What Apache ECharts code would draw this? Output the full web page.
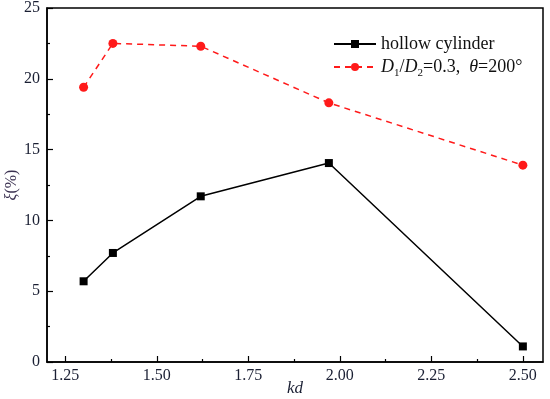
<!DOCTYPE html>
<html><head><meta charset="utf-8">
<script src="https://cdn.jsdelivr.net/npm/echarts@6/dist/echarts.min.js"></script>
<style>html,body{margin:0;padding:0;background:#fff}#c{width:550px;height:399px}</style>
</head><body><div id="c"></div>
<script>
var kd = [1.30, 1.38, 1.62, 1.97, 2.50];
var hollowCylinder = [5.7, 7.7, 11.7, 14.05, 1.1];
var ratioSeries = [19.4, 22.5, 22.3, 18.3, 13.9];
var xMajorTicks = [1.25, 1.50, 1.75, 2.00, 2.25, 2.50];
var xMinorTicks = [1.375, 1.625, 1.875, 2.125, 2.375];
var seriesNames = ['hollow cylinder', 'ratio'];

var font = 'Liberation Serif';
var txt = '#1a1f33';
var chart = echarts.init(document.getElementById('c'));
chart.setOption({
  animation: false,
  textStyle: {fontFamily: font},
  grid: {left: 47, right: 7, top: 8, bottom: 37, outerBoundsMode: 'none', containLabel: false,
    show: true, borderColor: '#000', borderWidth: 1.5, backgroundColor: 'transparent'},
  legend: {
    left: 328, top: 30, orient: 'vertical', itemWidth: 42, itemHeight: 10, itemGap: 5,
    data: seriesNames,
    textStyle: {fontFamily: font, fontSize: 18, color: '#111',
      rich: {
        i: {fontFamily: font, fontStyle: 'italic', fontSize: 18, color: '#111'},
        n: {fontFamily: font, fontSize: 18, color: '#111'},
        s: {fontFamily: font, fontSize: 11, color: '#111', padding: [13, 0, 0, 0]}
      }
    },
    formatter: function (name) {
      if (name === 'ratio') return '{i|D}{s|1}{n|/}{i|D}{s|2}{n|=0.3,  }{i|θ}{n|=200°}';
      return name;
    }
  },
  xAxis: [{
    type: 'value', min: 1.2, max: 2.555, position: 'bottom',
    name: 'kd', nameLocation: 'middle', nameGap: 18, nameMoveOverlap: false,
    nameTextStyle: {fontFamily: font, fontStyle: 'italic', fontSize: 17, color: txt, verticalAlign: 'top'},
    axisLine: {show: true, lineStyle: {color: '#000', width: 1.5}},
    axisTick: {inside: true, length: 6, customValues: xMajorTicks, lineStyle: {color: '#000', width: 1.2}},
    axisLabel: {customValues: xMajorTicks, fontFamily: font, fontSize: 16, color: txt, margin: 6,
      formatter: function (v) { return v.toFixed(2); }},
    splitLine: {show: false}
  }, {
    type: 'value', min: 1.2, max: 2.555, position: 'bottom',
    axisLine: {show: false},
    axisTick: {inside: true, length: 3, customValues: xMinorTicks, lineStyle: {color: '#000', width: 1.2}},
    axisLabel: {show: false},
    splitLine: {show: false}
  }],
  yAxis: {
    type: 'value', min: 0, max: 25, interval: 5,
    name: '{i|ξ}{n|(%)}', nameLocation: 'middle', nameGap: 27, nameRotate: 90, nameMoveOverlap: false,
    nameTextStyle: {rich: {
      i: {fontFamily: font, fontStyle: 'italic', fontSize: 16, color: '#3a3050'},
      n: {fontFamily: font, fontSize: 16, color: '#3a3050'}
    }},
    axisLine: {show: true, lineStyle: {color: '#000', width: 1.5}},
    axisTick: {inside: true, length: 6, lineStyle: {color: '#000', width: 1.2}},
    minorTick: {show: true, splitNumber: 2, length: 3, lineStyle: {color: '#000', width: 1.2}},
    axisLabel: {fontFamily: font, fontSize: 16, color: txt, margin: 7},
    splitLine: {show: false}
  },
  series: [{
    name: seriesNames[0], type: 'line',
    data: kd.map(function (x, i) { return [x, hollowCylinder[i]]; }),
    symbol: 'rect', symbolSize: 8,
    lineStyle: {color: '#000', width: 1.5},
    itemStyle: {color: '#000'}
  }, {
    name: seriesNames[1], type: 'line',
    data: kd.map(function (x, i) { return [x, ratioSeries[i]]; }),
    symbol: 'circle', symbolSize: 9,
    lineStyle: {color: '#ff1a1a', width: 1.5, type: [6, 5]},
    itemStyle: {color: '#ff1a1a'}
  }]
});
</script></body></html>
